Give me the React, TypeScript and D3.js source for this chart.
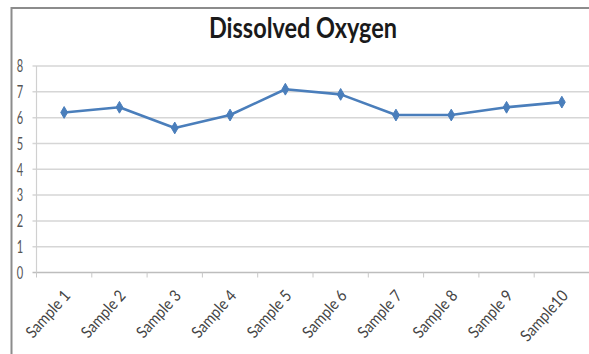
import React from "react";
import * as d3 from "d3";

const categories = [
  "Sample 1", "Sample 2", "Sample 3", "Sample 4", "Sample 5",
  "Sample 6", "Sample 7", "Sample 8", "Sample 9", "Sample10",
];
const oxygen = [6.2, 6.4, 5.6, 6.1, 7.1, 6.9, 6.1, 6.1, 6.4, 6.6];
const yTicks = [0, 1, 2, 3, 4, 5, 6, 7, 8];
const title = "Dissolved Oxygen";

const W = 589;
const H = 354;
const plot = { left: 36.5, right: 589.5, top: 66, bottom: 272.5 };
const FONT = "Lato, 'Open Sans', sans-serif";

export default function App() {
  const x = d3.scaleBand<string>().domain(categories).range([plot.left, plot.right]);
  const y = d3.scaleLinear().domain([0, 8]).range([plot.bottom, plot.top]);
  const cx = (c: string) => (x(c) as number) + x.bandwidth() / 2;

  const line = d3
    .line<number>()
    .x((_, i) => cx(categories[i]))
    .y((d) => y(d));

  const diamond = d3.symbol().type(d3.symbolDiamond).size(40)();

  return (
    <svg
      width={W}
      height={H}
      style={{ position: "absolute", left: 0, top: 0, background: "#fff" }}
    >
      {/* chart frame */}
      <rect x={11.5} y={8} width={620} height={380} fill="#fff" stroke="#8c8c8c" strokeWidth={2} />

      {/* title */}
      <g transform={`translate(303, 38) scale(1, 1.2)`}>
        <text textAnchor="middle" fontFamily={FONT} fontWeight={700} fontSize={23.5} fill="#1a1a1a">
          {title}
        </text>
      </g>

      {/* horizontal gridlines */}
      {yTicks.map((t) => (
        <line
          key={t}
          x1={plot.left - 4}
          x2={plot.right}
          y1={y(t)}
          y2={y(t)}
          stroke={t === 0 ? "#bdbdbd" : "#d6d6d6"}
          strokeWidth={1.5}
        />
      ))}
      {/* value axis */}
      <line x1={plot.left} x2={plot.left} y1={plot.top} y2={plot.bottom} stroke="#d0d0d0" strokeWidth={1.2} />

      {/* y tick labels */}
      {yTicks.map((t) => (
        <g key={t} transform={`translate(20, ${y(t)}) scale(0.85, 1.35)`}>
          <text textAnchor="middle" dy="0.36em" fontFamily={FONT} fontSize={13} fill="#555">
            {t}
          </text>
        </g>
      ))}

      {/* category tick marks */}
      {d3.range(categories.length + 1).map((i) => {
        const px = plot.left + i * x.step();
        return (
          <line key={i} x1={px} x2={px} y1={plot.bottom} y2={plot.bottom + 5} stroke="#c8c8c8" strokeWidth={1} />
        );
      })}

      {/* category labels */}
      {categories.map((c) => (
        <g key={c} transform={`translate(${cx(c) + 3}, ${plot.bottom + 20}) rotate(-48)`}>
          <g transform={`scale(1.1, 1.25)`}>
            <text textAnchor="end" dy="0.35em" fontFamily={FONT} fontSize={13} fill="#444">
              {c}
            </text>
          </g>
        </g>
      ))}

      {/* series */}
      <path d={line(oxygen) ?? ""} fill="none" stroke="#4a7ebb" strokeWidth={2.6} strokeLinejoin="round" />
      {oxygen.map((v, i) => (
        <path
          key={categories[i]}
          d={diamond ?? ""}
          transform={`translate(${cx(categories[i])}, ${y(v)})`}
          fill="#4a7ebb"
          stroke="#4a7ebb"
          strokeWidth={1}
        />
      ))}
    </svg>
  );
}
